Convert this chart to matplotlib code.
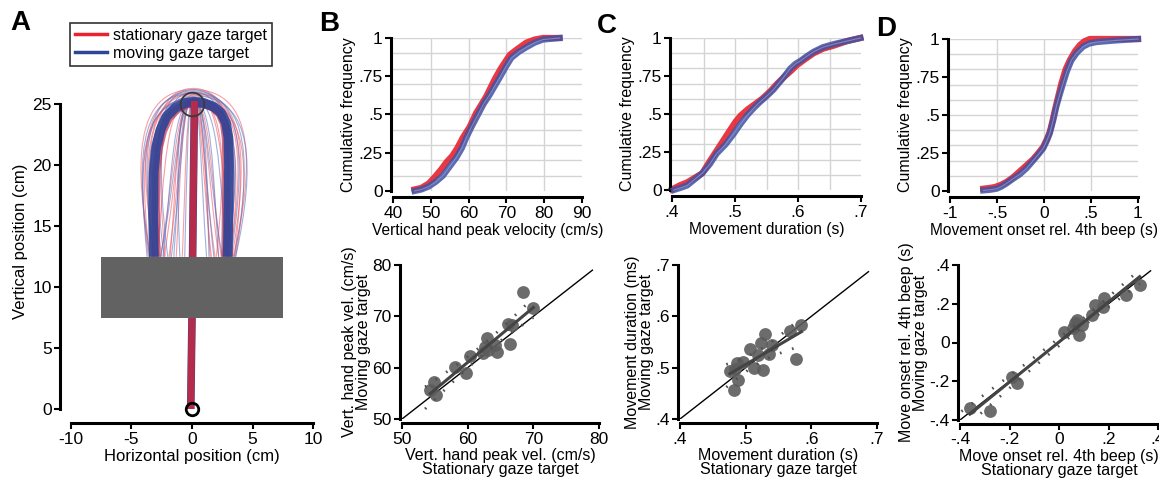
import numpy as np
import matplotlib
matplotlib.use("Agg")
import matplotlib.pyplot as plt
from matplotlib.path import Path
from matplotlib.patches import PathPatch
from matplotlib.lines import Line2D

plt.rcParams['font.family'] = ['Liberation Sans', 'DejaVu Sans']
plt.rcParams['font.size'] = 12
plt.rcParams['axes.unicode_minus'] = False

RED = '#e8222e'
BLUE = '#2f4496'
GRAY = '#5c5c5c'

# ---- panel A: hand trajectories (cm) ----
# thin single trials: left foot, left bulge, apex height, right bulge, right foot
red_trials = [(-3.4, -4.8, 26.2, 5.2, 3.4), (-3.0, -4.4, 26.0, 4.6, 3.3),
              (-2.8, -4.0, 25.8, 4.3, 3.1), (-3.5, -4.3, 25.5, 4.0, 3.2),
              (-2.5, -3.6, 26.3, 3.8, 2.9), (-2.2, -2.9, 25.6, 3.3, 2.5),
              (-1.3, -0.9, 25.4, 1.0, 1.5), (-2.6, -1.4, 25.2, 1.5, 2.4),
              (-3.2, -3.8, 25.0, 3.7, 3.0), (-1.8, -1.2, 25.8, 2.4, 3.4),
              (-3.6, -4.5, 25.4, 4.8, 3.6), (-0.8, -0.5, 25.2, 0.8, 1.6),
              (-2.9, -2.2, 25.5, 2.8, 2.0), (-3.3, -4.0, 25.9, 4.4, 3.5),
              (-1.9, -0.9, 25.3, 0.9, 1.9), (-2.3, -1.1, 25.6, 1.2, 2.2)]
blue_trials = [(-3.5, -4.6, 25.9, 4.9, 3.5), (-3.1, -4.2, 26.1, 4.4, 3.2),
               (-2.7, -3.8, 25.6, 3.9, 3.0), (-2.4, -1.6, 25.3, 1.7, 2.2),
               (-1.5, -1.0, 25.4, 1.2, 1.4), (-2.0, -2.9, 26.0, 3.4, 2.6),
               (-3.3, -3.9, 25.2, 3.8, 3.1), (-0.6, -0.4, 25.3, 0.7, 1.2),
               (-2.8, -3.3, 25.7, 5.2, 3.6), (-3.7, -4.4, 25.5, 4.1, 2.8),
               (-2.3, -3.3, 26.2, 3.7, 2.7), (-1.0, -1.3, 25.4, 2.2, 2.9),
               (-2.6, -1.2, 25.2, 1.3, 2.5), (-1.7, -0.8, 25.5, 1.0, 1.8)]

thick_blue_x = [-3.15, -3.2, -3.15, -2.95, -2.6, -2.1, -1.4, -0.6, 0.2, 1.0, 1.8, 2.4, 2.8, 3.0, 3.05, 3.0, 2.95]
thick_blue_y = [12.5, 16.0, 19.5, 21.5, 22.9, 24.0, 24.7, 25.1, 25.2, 25.1, 24.8, 24.3, 23.5, 22.3, 20.0, 16.0, 12.5]
thick_red_x = [-2.95, -3.0, -2.95, -2.75, -2.4, -1.9, -1.2, -0.4, 0.3, 1.1, 1.8, 2.3, 2.65, 2.8, 2.85, 2.8, 2.75]
thick_red_y = [12.5, 16.0, 19.5, 21.4, 22.8, 23.9, 24.6, 25.0, 25.1, 25.0, 24.7, 24.2, 23.4, 22.2, 20.0, 16.0, 12.5]
center_x = [-0.1, -0.05, 0.0, 0.05, 0.1, 0.15, 0.2]
center_y = [0.3, 4.0, 7.5, 12.5, 17.0, 21.0, 25.0]
obstacle_x = [-7.5, 7.5]
obstacle_y = [7.5, 12.5]
start_pos = (0, 0)
target_pos = (0, 25)

# ---- top row: cumulative distributions ----
vel_red_x = [45.7, 47.5, 49.5, 51.0, 52.7, 54.2, 55.7, 57.0, 58.5, 60.3, 62.0, 63.5, 64.7, 66.9,
             68.5, 70.9, 73.0, 75.3, 77.5, 79.7, 84.0]
vel_red_f = [0.01, 0.02, 0.05, 0.09, 0.14, 0.19, 0.23, 0.28, 0.35, 0.42, 0.51, 0.57, 0.62, 0.73,
             0.80, 0.89, 0.93, 0.97, 0.99, 1.0, 1.0]
vel_blue_x = [45.7, 47.5, 49.5, 51.3, 53.2, 55.0, 56.8, 58.2, 59.4, 61.0, 62.5, 64.0, 65.6, 67.0,
              68.2, 69.8, 71.3, 73.3, 75.3, 77.5, 79.7, 84.1]
vel_blue_f = [0.0, 0.01, 0.03, 0.06, 0.10, 0.16, 0.22, 0.28, 0.35, 0.43, 0.50, 0.57, 0.63, 0.69,
              0.74, 0.81, 0.87, 0.91, 0.94, 0.97, 0.99, 1.0]

dur_red_x = [0.400, 0.412, 0.424, 0.436, 0.448, 0.460, 0.471, 0.482, 0.493, 0.501, 0.509, 0.520,
             0.530, 0.543, 0.556, 0.567, 0.577, 0.588, 0.598, 0.611, 0.625, 0.640, 0.657, 0.678, 0.699]
dur_red_f = [0.004, 0.03, 0.05, 0.08, 0.11, 0.19, 0.26, 0.33, 0.40, 0.45, 0.49, 0.53,
             0.56, 0.60, 0.65, 0.70, 0.74, 0.78, 0.82, 0.86, 0.90, 0.93, 0.95, 0.98, 1.0]
dur_blue_x = [0.403, 0.414, 0.424, 0.436, 0.448, 0.460, 0.471, 0.485, 0.498, 0.508, 0.519, 0.530,
              0.540, 0.551, 0.561, 0.575, 0.588, 0.596, 0.604, 0.614, 0.625, 0.640, 0.657, 0.678, 0.699]
dur_blue_f = [0.0, 0.015, 0.03, 0.07, 0.11, 0.17, 0.24, 0.30, 0.37, 0.43, 0.49, 0.54,
              0.58, 0.62, 0.66, 0.73, 0.80, 0.83, 0.85, 0.88, 0.91, 0.94, 0.96, 0.98, 1.0]

ons_red_x = [-0.646, -0.580, -0.522, -0.460, -0.398, -0.330, -0.257, -0.185, -0.115, -0.060, -0.009,
             0.030, 0.062, 0.090, 0.115, 0.150, 0.186, 0.230, 0.274, 0.330, 0.381, 0.430, 0.487, 0.700, 1.0]
ons_red_f = [0.015, 0.02, 0.026, 0.04, 0.06, 0.09, 0.13, 0.17, 0.21, 0.25, 0.29,
             0.34, 0.39, 0.46, 0.53, 0.62, 0.71, 0.80, 0.86, 0.92, 0.96, 0.985, 1.0, 1.0, 1.0]
ons_blue_x = [-0.646, -0.575, -0.504, -0.450, -0.398, -0.330, -0.257, -0.185, -0.115, -0.060, -0.009,
              0.030, 0.062, 0.100, 0.133, 0.170, 0.204, 0.245, 0.292, 0.350, 0.416, 0.480, 0.558, 0.750, 1.0]
ons_blue_f = [0.004, 0.008, 0.015, 0.03, 0.05, 0.08, 0.11, 0.15, 0.20, 0.24, 0.28,
              0.33, 0.38, 0.47, 0.56, 0.64, 0.71, 0.79, 0.86, 0.91, 0.95, 0.97, 0.98, 0.99, 1.0]

# ---- bottom row: per-subject means (stationary vs moving) ----
vel_stat = [68.5, 70.0, 66.2, 66.7, 66.4, 62.9, 62.6, 64.2, 64.4, 63.1, 62.4, 60.4, 58.1, 59.8, 54.8, 54.3, 55.2]
vel_move = [74.8, 71.6, 68.6, 68.3, 64.6, 65.7, 64.1, 64.4, 63.1, 63.4, 62.8, 62.3, 60.2, 58.9, 57.2, 55.6, 54.7]

dur_stat = [0.585, 0.568, 0.529, 0.524, 0.540, 0.577, 0.536, 0.519, 0.506, 0.496, 0.487, 0.476, 0.484, 0.512, 0.526, 0.489, 0.482]
dur_move = [0.583, 0.572, 0.566, 0.549, 0.544, 0.517, 0.527, 0.525, 0.536, 0.512, 0.510, 0.494, 0.497, 0.499, 0.495, 0.476, 0.456]

ons_stat = [0.326, 0.271, 0.182, 0.179, 0.145, 0.132, 0.071, 0.065, 0.092, 0.058, 0.082, 0.020, -0.191, -0.168, -0.360, -0.279]
ons_move = [0.297, 0.245, 0.228, 0.185, 0.194, 0.142, 0.116, 0.099, 0.090, 0.073, 0.039, 0.056, -0.176, -0.207, -0.340, -0.352]


def style(ax, lw=2.2):
    for s in ['top', 'right']:
        ax.spines[s].set_visible(False)
    for s in ['left', 'bottom']:
        ax.spines[s].set_linewidth(lw)
    ax.tick_params(direction='out', length=4, width=1.5, labelsize=12.5, pad=2)


def loop_path(lf, lb, top, rb, rf, base=12.5):
    mid = base + 0.55 * (top - base)
    verts = [(lf, base), (lb, mid), (lb, top), (0.1, top), (rb, top), (rb, mid), (rf, base)]
    codes = [Path.MOVETO] + [Path.CURVE4] * 6
    return Path(verts, codes)


fig = plt.figure(figsize=(11.59, 4.79), dpi=100)
W, H = 1159, 479

# ---------------- A ----------------
axA = fig.add_axes([0.0610, 0.1455, 0.2093, 0.7004])
for tr in red_trials:
    axA.add_patch(PathPatch(loop_path(*tr), fill=False, ec='#f0505c', lw=0.8, alpha=0.55, zorder=1))
for tr in blue_trials:
    axA.add_patch(PathPatch(loop_path(*tr), fill=False, ec='#5470c0', lw=0.8, alpha=0.55, zorder=1))
axA.plot(thick_red_x, thick_red_y, color='#c03050', lw=6, alpha=0.7, solid_capstyle='butt', zorder=2)
axA.plot(thick_blue_x, thick_blue_y, color=BLUE, lw=7, alpha=0.9, solid_capstyle='butt', zorder=3)
axA.plot(center_x, center_y, color=BLUE, lw=5.5, zorder=3)
axA.plot(center_x, center_y, color=RED, lw=5, alpha=0.72, zorder=4)
axA.fill_between(obstacle_x, obstacle_y[0], obstacle_y[1], color='#626262', lw=0, zorder=6)
axA.plot(*start_pos, 'o', ms=9, mfc='none', mec='black', mew=2, clip_on=False, zorder=7)
axA.plot(*target_pos, 'o', ms=17, mfc='none', mec='#3a3a3a', mew=1.3, clip_on=False, zorder=7)
axA.set_xlim(-10, 10)
axA.set_ylim(0, 27.5)
style(axA)
axA.spines['left'].set_position(('outward', 7.7))
axA.spines['bottom'].set_position(('outward', 10))
axA.spines['left'].set_bounds(0, 25)
axA.spines['bottom'].set_bounds(-10, 10)
axA.set_xticks([-10, -5, 0, 5, 10])
axA.set_yticks([0, 5, 10, 15, 20, 25])
axA.set_xlabel('Horizontal position (cm)', labelpad=2)
axA.set_ylabel('Vertical position (cm)', labelpad=3)

handles = [Line2D([], [], color=RED, lw=2.5), Line2D([], [], color=BLUE, lw=2.5)]
leg = fig.legend(handles, ['stationary gaze target', 'moving gaze target'], loc='upper left',
                 bbox_to_anchor=(70 / W, 1 - 23 / H), fancybox=False, edgecolor='black',
                 fontsize=11.5, handlelength=2.0, borderpad=0.3, labelspacing=0.2,
                 handletextpad=0.4, borderaxespad=0)
leg.get_frame().set_linewidth(1.2)

# ---------------- top row ----------------
top_specs = [
    ([393, 191, 582, 38], vel_red_x, vel_red_f, vel_blue_x, vel_blue_f, (40, 90),
     [40, 50, 60, 70, 80, 90], ['40', '50', '60', '70', '80', '90'], [50, 60, 70, 80],
     'Vertical hand peak velocity (cm/s)'),
    ([672, 190, 861, 38], dur_red_x, dur_red_f, dur_blue_x, dur_blue_f, (0.4, 0.7),
     [0.4, 0.5, 0.6, 0.7], ['.4', '.5', '.6', '.7'], [0.45, 0.5, 0.55, 0.6, 0.65],
     'Movement duration (s)'),
    ([950, 191, 1138, 39], ons_red_x, ons_red_f, ons_blue_x, ons_blue_f, (-1, 1),
     [-1, -0.5, 0, 0.5, 1], ['-1', '-.5', '0', '.5', '1'], [-0.5, 0, 0.5],
     'Movement onset rel. 4th beep (s)'),
]
for box, rx, rf, bx, bf, xl, xt, xtl, xg, xlab in top_specs:
    l, b, r, t = box
    ax = fig.add_axes([l / W, 1 - b / H, (r - l) / W, (b - t) / H])
    for yy in np.arange(0.1, 1.01, 0.1):
        ax.axhline(yy, color='#d4d4d4', lw=1, zorder=0)
    for xx in xg:
        ax.axvline(xx, color='#d4d4d4', lw=1, zorder=0)
    ax.plot(rx, rf, color=RED, lw=4.5, alpha=0.9, clip_on=False, zorder=2, solid_joinstyle='round')
    ax.plot(bx, bf, color='#4152a2', lw=4.5, alpha=0.85, clip_on=False, zorder=3, solid_joinstyle='round')
    ax.plot(bx, bf, color='#8796d2', lw=0.8, alpha=0.8, clip_on=False, zorder=4)
    ax.set_xlim(*xl)
    ax.set_ylim(0, 1)
    style(ax)
    ax.spines['left'].set_position(('outward', 1.5))
    ax.spines['bottom'].set_position(('outward', 4.5))
    ax.set_xticks(xt)
    ax.set_xticklabels(xtl)
    ax.set_yticks([0, 0.25, 0.5, 0.75, 1])
    ax.set_yticklabels(['0', '.25', '.5', '.75', '1'])
    ax.set_xlabel(xlab, labelpad=2, fontsize=11.2)
    ax.set_ylabel('Cumulative frequency', labelpad=2, fontsize=11.5)

# ---------------- bottom row ----------------
bot_specs = [
    ([402, 419, 599, 265], vel_stat, vel_move, (50, 80), (50, 79),
     [50, 60, 70, 80], ['50', '60', '70', '80'],
     'Vert. hand peak vel. (cm/s)\nStationary gaze target',
     'Vert. hand peak vel. (cm/s)\nMoving gaze target'),
    ([680, 419, 877, 265], dur_stat, dur_move, (0.4, 0.7), (0.4, 0.687),
     [0.4, 0.5, 0.6, 0.7], ['.4', '.5', '.6', '.7'],
     'Movement duration (s)\nStationary gaze target',
     'Movement duration (ms)\nMoving gaze target'),
    ([960, 420, 1158, 265], ons_stat, ons_move, (-0.4, 0.4), (-0.4, 0.37),
     [-0.4, -0.2, 0, 0.2, 0.4], ['-.4', '-.2', '0', '.2', '.4'],
     'Move onset rel. 4th beep (s)\nStationary gaze target',
     'Move onset rel. 4th beep (s)\nMoving gaze target'),
]
for box, xs, ys, lim, diag, tk, tkl, xlab, ylab in bot_specs:
    l, b, r, t = box
    ax = fig.add_axes([l / W, 1 - b / H, (r - l) / W, (b - t) / H])
    xs = np.array(xs)
    ys = np.array(ys)
    ax.plot(diag, diag, color='black', lw=1, zorder=1)
    ax.scatter(xs, ys, s=85, color=GRAY, alpha=0.9, lw=0, zorder=2)
    k, c = np.polyfit(xs, ys, 1)
    gx = np.linspace(xs.min() - 0.05 * (xs.max() - xs.min()), xs.max(), 60)
    n = len(xs)
    res = ys - (k * xs + c)
    se = np.sqrt(np.sum(res ** 2) / (n - 2))
    sxx = np.sum((xs - xs.mean()) ** 2)
    band = 2.1 * se * np.sqrt(1 / n + (gx - xs.mean()) ** 2 / sxx)
    ax.plot(gx, k * gx + c + band, color='#505050', lw=2, ls=(0, (0.6, 4)), zorder=3)
    ax.plot(gx, k * gx + c - band, color='#505050', lw=2, ls=(0, (0.6, 4)), zorder=3)
    lx = np.array([xs.min(), xs.max()])
    ax.plot(lx, k * lx + c, color='#444444', lw=2.2, zorder=3)
    ax.set_xlim(*lim)
    ax.set_ylim(*lim)
    style(ax)
    ax.spines['left'].set_position(('outward', 1.5))
    ax.spines['bottom'].set_position(('outward', 3))
    ax.set_xticks(tk)
    ax.set_xticklabels(tkl)
    ax.set_yticks(tk)
    ax.set_yticklabels(tkl)
    ax.set_xlabel(xlab, labelpad=1, linespacing=0.9, fontsize=11.5)
    ax.set_ylabel(ylab, labelpad=1, linespacing=0.9, fontsize=11.5)

for lab, x, y in [('A', 10, 10), ('B', 319, 11), ('C', 597, 13), ('D', 876, 16)]:
    fig.text(x / W, 1 - y / H, lab, fontsize=20, fontweight='bold', va='top', ha='left')

fig.savefig('out.png', dpi=100)
